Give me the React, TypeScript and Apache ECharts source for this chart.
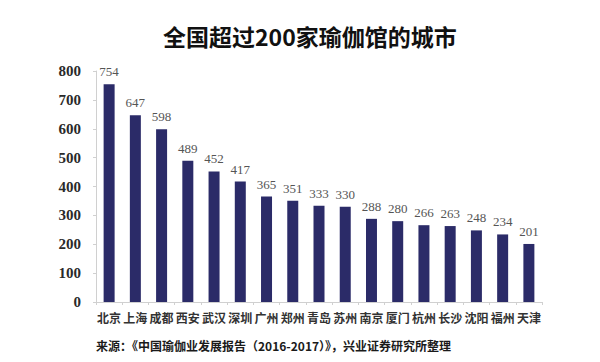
import React, { useEffect, useRef } from "react";
import * as echarts from "echarts";

const titleText = "全国超过200家瑜伽馆的城市";
const sourceText = "来源：《中国瑜伽业发展报告（2016-2017）》，兴业证券研究所整理";
const cities = ["北京", "上海", "成都", "西安", "武汉", "深圳", "广州", "郑州", "青岛", "苏州", "南京", "厦门", "杭州", "长沙", "沈阳", "福州", "天津"];
const counts = [754, 647, 598, 489, 452, 417, 365, 351, 333, 330, 288, 280, 266, 263, 248, 234, 201];
const yTicks = { min: 0, max: 800, interval: 100 };

export default function App() {
  const ref = useRef<HTMLDivElement>(null);
  useEffect(() => {
    if (!ref.current) return;
    const chart = echarts.init(ref.current, undefined, { renderer: "svg" });
    chart.setOption({
      animation: false,
      backgroundColor: "#ffffff",
      title: {
        text: titleText,
        left: 158,
        top: 19,
        textStyle: { fontFamily: "Noto Sans CJK SC", fontSize: 23, fontWeight: "bold", color: "#111" },
      },
      graphic: [
        {
          type: "text",
          left: 96,
          top: 339,
          style: {
            text: sourceText,
            fontFamily: "Noto Sans CJK SC",
            fontSize: 12,
            fontWeight: "bold",
            fill: "#1a1a1a",
          },
        },
      ],
      grid: { left: 96, right: 58, top: 71, bottom: 60 },
      xAxis: {
        type: "category",
        data: cities,
        axisLine: { lineStyle: { color: "#d0d0d0", width: 1 } },
        axisTick: { show: true, length: 3, lineStyle: { color: "#d0d0d0" } },
        axisLabel: {
          interval: 0,
          margin: 9,
          fontFamily: "Noto Sans CJK SC",
          fontSize: 12,
          fontWeight: "bold",
          color: "#333",
        },
      },
      yAxis: {
        type: "value",
        min: yTicks.min,
        max: yTicks.max,
        interval: yTicks.interval,
        splitLine: { show: false },
        axisLine: { show: true, lineStyle: { color: "#d0d0d0" } },
        axisTick: { show: true, length: 3, lineStyle: { color: "#d0d0d0" } },
        axisLabel: {
          margin: 15,
          fontFamily: "Liberation Serif",
          fontSize: 15,
          fontWeight: "bold",
          color: "#2a2a2a",
        },
      },
      series: [
        {
          type: "bar",
          data: counts,
          barWidth: 11,
          itemStyle: { color: "#2b2b68" },
          label: {
            show: true,
            position: "top",
            distance: 6,
            fontFamily: "Liberation Serif",
            fontSize: 13,
            color: "#555",
          },
        },
      ],
    });
    return () => chart.dispose();
  }, []);
  return <div ref={ref} style={{ width: 600, height: 362, position: "fixed", left: 0, top: 0 }} />;
}
